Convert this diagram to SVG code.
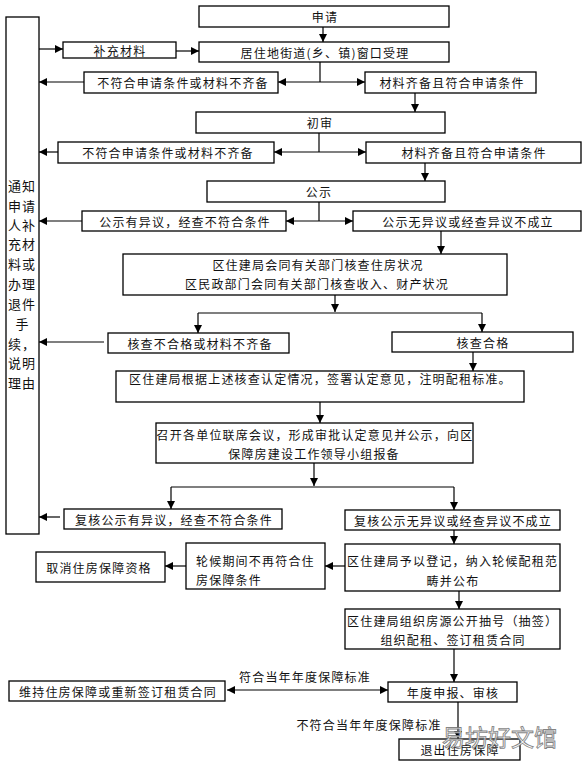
<svg xmlns="http://www.w3.org/2000/svg" width="586" height="768" viewBox="0 0 586 768">
<defs>
<marker id="ah" markerUnits="userSpaceOnUse" markerWidth="9" markerHeight="8" refX="8" refY="4" orient="auto-start-reverse">
<path d="M0,0 L8,4 L0,8 Z" fill="#000"/>
</marker>
<style>
.b{fill:#fff;stroke:#000;stroke-width:1.3}
.c{fill:none;stroke:#000;stroke-width:1.2}
.a{marker-end:url(#ah)}
text{font-family:"Noto Sans CJK SC","Liberation Sans",sans-serif;font-size:12px;fill:#111;letter-spacing:1.2px;dominant-baseline:central}
.m{text-anchor:middle}
.v{font-size:13px;letter-spacing:1px}
</style>
</defs>
<rect width="586" height="768" fill="#fff"/>

<g id="notify">
<rect class="b" x="6" y="17" width="33" height="517"/>
<text class="v" x="8" y="185">通知</text>
<text class="v" x="8" y="205">申请</text>
<text class="v" x="8" y="224">人补</text>
<text class="v" x="8" y="243">充材</text>
<text class="v" x="8" y="263">料或</text>
<text class="v" x="8" y="283">办理</text>
<text class="v" x="8" y="303">退件</text>
<text class="v" x="15.5" y="323">手</text>
<text class="v" x="8" y="343">续，</text>
<text class="v" x="8" y="362">说明</text>
<text class="v" x="8" y="382">理由</text>
</g>

<g id="apply"><rect class="b" x="199" y="6" width="250" height="21"/><text class="m" x="325" y="16.5">申请</text></g>
<g id="accept"><rect class="b" x="199" y="42" width="250" height="20"/><text class="m" x="325" y="52">居住地街道(乡、镇)窗口受理</text></g>
<g id="supplement"><rect class="b" x="63" y="42" width="113" height="16"/><text class="m" x="120" y="50">补充材料</text></g>
<g id="reject1"><rect class="b" x="84" y="72" width="194" height="21"/><text class="m" x="183" y="82.5">不符合申请条件或材料不齐备</text></g>
<g id="ok1"><rect class="b" x="365" y="72" width="171" height="21"/><text class="m" x="452" y="82.5">材料齐备且符合申请条件</text></g>
<g id="review"><rect class="b" x="196" y="112" width="249" height="21"/><text class="m" x="320" y="122.5">初审</text></g>
<g id="reject2"><rect class="b" x="58" y="142" width="216" height="21"/><text class="m" x="168" y="152.5">不符合申请条件或材料不齐备</text></g>
<g id="ok2"><rect class="b" x="366" y="142" width="215" height="21"/><text class="m" x="474" y="152.5">材料齐备且符合申请条件</text></g>
<g id="publicize"><rect class="b" x="207" y="181" width="238" height="21"/><text class="m" x="319" y="191.5">公示</text></g>
<g id="objection"><rect class="b" x="82" y="211" width="204" height="20"/><text class="m" x="185" y="221">公示有异议，经查不符合条件</text></g>
<g id="noobjection"><rect class="b" x="353" y="211" width="228" height="20"/><text class="m" x="468" y="221">公示无异议或经查异议不成立</text></g>
<g id="check"><rect class="b" x="123" y="254" width="384" height="41"/>
<text class="m" x="318" y="264">区住建局会同有关部门核查住房状况</text>
<text class="m" x="317" y="283">区民政部门会同有关部门核查收入、财产状况</text></g>
<g id="checkfail"><rect class="b" x="108" y="333" width="181" height="20"/><text class="m" x="200" y="343">核查不合格或材料不齐备</text></g>
<g id="checkpass"><rect class="b" x="392" y="332" width="181" height="20"/><text class="m" x="483" y="342">核查合格</text></g>
<g id="decide"><rect class="b" x="116" y="371" width="408" height="31"/><text x="129" y="378.5">区住建局根据上述核查认定情况，签署认定意见，注明配租标准。</text></g>
<g id="meeting"><rect class="b" x="156" y="423" width="317" height="40"/>
<text class="m" x="315" y="434">召开各单位联席会议，形成审批认定意见并公示，向区</text>
<text class="m" x="314" y="453">保障房建设工作领导小组报备</text></g>
<g id="reobjection"><rect class="b" x="64" y="509" width="218" height="20"/><text class="m" x="174" y="519">复核公示有异议，经查不符合条件</text></g>
<g id="renoobjection"><rect class="b" x="345" y="510" width="215" height="20"/><text class="m" x="453" y="520">复核公示无异议或经查异议不成立</text></g>
<g id="register"><rect class="b" x="345" y="544" width="215" height="47"/>
<text x="347" y="560">区住建局予以登记，纳入轮候配租范</text>
<text class="m" x="453" y="580">畴并公布</text></g>
<g id="waiting"><rect class="b" x="186" y="543" width="139" height="46"/>
<text x="196" y="560">轮候期间不再符合住</text>
<text x="196" y="579">房保障条件</text></g>
<g id="cancel"><rect class="b" x="36" y="552" width="129" height="30"/><text class="m" x="99" y="567">取消住房保障资格</text></g>
<g id="allocate"><rect class="b" x="345" y="609" width="215" height="40"/>
<text x="347" y="620">区住建局组织房源公开抽号（抽签）</text>
<text class="m" x="453" y="639">组织配租、签订租赁合同</text></g>
<g id="annual"><rect class="b" x="388" y="682" width="129" height="20"/><text class="m" x="453" y="692">年度申报、审核</text></g>
<g id="maintain"><rect class="b" x="9" y="681" width="216" height="20"/><text class="m" x="118" y="691">维持住房保障或重新签订租赁合同</text></g>
<g id="exit"><rect class="b" x="399" y="739" width="121" height="21"/><text class="m" x="460" y="749.5">退出住房保障</text></g>

<g id="connectors">
<path class="c a" d="M323,27 V42"/>
<path class="c a" d="M39,49 H63"/>
<path class="c a" d="M176,51 H199"/>
<path class="c" d="M320,62 V82"/>
<path class="c a" d="M320,82 H278"/>
<path class="c a" d="M320,82 H365"/>
<path class="c a" d="M84,82 H39"/>
<path class="c a" d="M415,93 V112"/>
<path class="c" d="M319,133 V152"/>
<path class="c a" d="M319,152 H274"/>
<path class="c a" d="M319,152 H366"/>
<path class="c a" d="M58,152 H39"/>
<path class="c a" d="M425,163 V181"/>
<path class="c" d="M319,202 V221"/>
<path class="c a" d="M319,221 H286"/>
<path class="c a" d="M319,221 H353"/>
<path class="c a" d="M82,221 H39"/>
<path class="c a" d="M441,231 V254"/>
<path class="c a" d="M335,295 V312"/>
<path class="c" d="M198,313 H482"/>
<path class="c a" d="M198,313 V333"/>
<path class="c a" d="M482,313 V332"/>
<path class="c a" d="M104,342 H39"/>
<path class="c a" d="M473,352 V371"/>
<path class="c a" d="M320,402 V423"/>
<path class="c a" d="M314,463 V486"/>
<path class="c" d="M171,487 H454"/>
<path class="c a" d="M171,487 V509"/>
<path class="c a" d="M454,487 V510"/>
<path class="c a" d="M60,517 H39"/>
<path class="c a" d="M454,530 V544"/>
<path class="c a" d="M345,566 H325"/>
<path class="c a" d="M186,566 H165"/>
<path class="c a" d="M459,591 V609"/>
<path class="c a" d="M454,649 V682"/>
<path class="c a" d="M227,690 H388" marker-start="url(#ah)"/>
<path class="c a" d="M458,702 V739"/>
<text class="m" x="305" y="676">符合当年年度保障标准</text>
<text class="m" x="369" y="724">不符合当年年度保障标准</text>
</g>

<text x="442" y="736" style="font-size:23px;letter-spacing:0;fill:#fff;stroke:#777;stroke-width:0.9;opacity:0.9">易坊好文馆</text>
</svg>
